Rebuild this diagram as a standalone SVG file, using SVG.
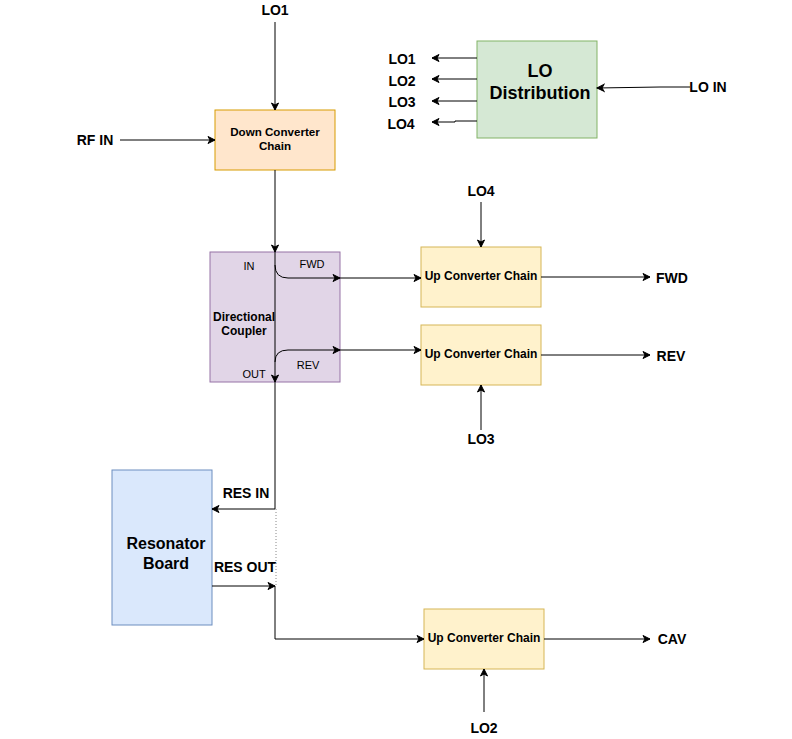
<svg xmlns="http://www.w3.org/2000/svg" width="792" height="739" viewBox="0 0 792 739">
<defs>
<marker id="ah" markerWidth="10" markerHeight="10" refX="8" refY="5" orient="auto" markerUnits="userSpaceOnUse">
<path d="M1,1.5 L8,5 L1,8.5 L3,5 Z" fill="#000" stroke="#000" stroke-width="1"/>
</marker>
</defs>
<style>
text{font-family:"Liberation Sans",Arial,Helvetica,sans-serif;fill:#000;text-anchor:middle}
.b{font-weight:bold}
.lab{font-size:14px;font-weight:bold}
.sm{font-size:11px}
.md{font-size:12px}
.e{fill:none;stroke:#000;stroke-width:1}
.ea{fill:none;stroke:#000;stroke-width:1;marker-end:url(#ah)}
</style>
<rect width="792" height="739" fill="#fff"/>

<g id="down-converter">
<rect x="215" y="110" width="120" height="60" fill="#ffe6cc" stroke="#d79b00"/>
<text class="b" font-size="11.6" x="275" y="136">Down Converter</text>
<text class="b" font-size="11.6" x="275" y="150">Chain</text>
</g>

<g id="directional-coupler">
<rect x="210" y="252" width="130" height="130" fill="#e1d5e7" stroke="#9673a6"/>
<text class="b md" x="244" y="321">Directional</text>
<text class="b md" x="244" y="335">Coupler</text>
<text class="sm" x="249" y="270">IN</text>
<text class="sm" x="312" y="268">FWD</text>
<text class="sm" x="254" y="378">OUT</text>
<text class="sm" x="308" y="369">REV</text>
</g>

<g id="up-converter-fwd">
<rect x="421" y="247" width="120" height="60" fill="#fff2cc" stroke="#d6b656"/>
<text class="b md" x="481" y="280">Up Converter Chain</text>
</g>
<g id="up-converter-rev">
<rect x="421" y="325" width="120" height="60" fill="#fff2cc" stroke="#d6b656"/>
<text class="b md" x="481" y="358">Up Converter Chain</text>
</g>
<g id="up-converter-cav">
<rect x="424" y="609" width="120" height="60" fill="#fff2cc" stroke="#d6b656"/>
<text class="b md" x="484" y="642">Up Converter Chain</text>
</g>

<g id="lo-distribution">
<rect x="477" y="41" width="120" height="97" fill="#d5e8d4" stroke="#82b366"/>
<text class="b" font-size="18" x="540" y="77">LO</text>
<text class="b" font-size="18" x="540" y="99">Distribution</text>
</g>

<g id="resonator-board">
<rect x="112" y="470" width="100" height="155" fill="#dae8fc" stroke="#6c8ebf"/>
<text class="b" font-size="16" x="166" y="549">Resonator</text>
<text class="b" font-size="16" x="166" y="569">Board</text>
</g>

<g id="labels">
<text class="lab" x="275" y="15">LO1</text>
<text class="lab" x="95" y="145">RF IN</text>
<text class="lab" x="402" y="64">LO1</text>
<text class="lab" x="402" y="86">LO2</text>
<text class="lab" x="402" y="107">LO3</text>
<text class="lab" x="401" y="129">LO4</text>
<text class="lab" x="708" y="92">LO IN</text>
<text class="lab" x="481" y="196">LO4</text>
<text class="lab" x="481" y="444">LO3</text>
<text class="lab" x="484" y="733">LO2</text>
<text class="lab" x="672" y="283">FWD</text>
<text class="lab" x="671" y="361">REV</text>
<text class="lab" x="672" y="644">CAV</text>
<text class="lab" x="246" y="498">RES IN</text>
<text class="lab" x="245" y="572">RES OUT</text>
</g>

<g id="connectors">
<path class="ea" d="M275,22 V110"/>
<path class="ea" d="M120,140 H215"/>
<path class="ea" d="M275,170 V252"/>
<path class="ea" d="M275,252 V382"/>
<path class="ea" d="M275,265 Q275,278 288,278 H340"/>
<path class="ea" d="M340,278 H421"/>
<path class="ea" d="M275,362 Q275,350 288,350 H340"/>
<path class="ea" d="M340,350 H421" stroke="#555"/>
<path class="ea" d="M481,202 V247"/>
<path class="ea" d="M481,430 V385"/>
<path class="ea" d="M484,712 V669"/>
<path class="ea" d="M541,277 H650"/>
<path class="ea" d="M541,355 H650"/>
<path class="ea" d="M544,639 H650"/>
<path class="ea" d="M477,58 H432"/>
<path class="ea" d="M477,79 H432"/>
<path class="ea" d="M477,101 H432"/>
<path class="ea" d="M477,121 H455 V122 H432"/>
<path class="ea" d="M690,87 H660 L597,88"/>
<path class="e" d="M275,382 V509"/>
<path class="ea" d="M275,509 H212"/>
<path class="ea" d="M212,586 H275"/>
<path d="M276,509 V586" fill="none" stroke="#888" stroke-width="1" stroke-dasharray="1,2"/>
<path class="ea" d="M275,586 V639 H424"/>
</g>
</svg>
